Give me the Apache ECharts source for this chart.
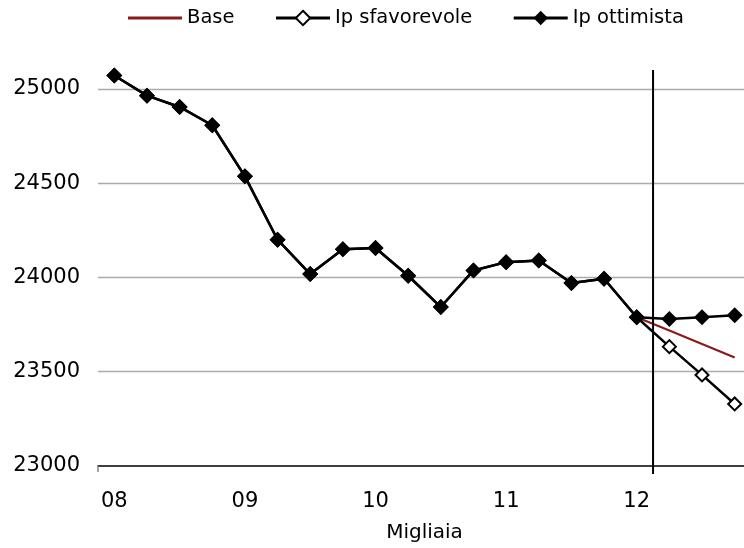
<!DOCTYPE html>
<html>
<head>
<meta charset="utf-8">
<script src="https://cdn.jsdelivr.net/npm/echarts@6/dist/echarts.min.js"></script>
<style>html,body{margin:0;padding:0;background:#fff}#c{width:744px;height:548px}</style>
</head>
<body>
<div id="c"></div>
<script>
// Quarterly categories (2008 Q1 .. 2012 Q4); labels show the year only
var categories = ['08','08','08','08','09','09','09','09','10','10','10','10','11','11','11','11','12','12','12','12'];
// Historical values (08 Q1 .. 12 Q1)
var histValues = [25071,24964,24904,24807,24536,24200,24018,24150,24156,24009,23843,24037,24081,24090,23970,23993,23789];
// Forecasts (12 Q2 .. 12 Q4)
var baseForecast = [23718,23647,23575];
var sfavForecast = [23633,23483,23329];
var ottForecast  = [23779,23789,23800];
// Y axis
var yMin = 23000, yMax = 25100, yStep = 500;
var gridValues = [23500, 24000, 24500, 25000];
// Vertical divider between 12 Q1 and 12 Q2 (in category-boundary units), extends a bit below the axis
var dividerX = 17;
var dividerBottom = 22958;

var nHist = histValues.length;
function pad(n){ var a=[]; for(var i=0;i<n;i++) a.push(null); return a; }
var baseData = pad(nHist-1).concat([histValues[nHist-1]]).concat(baseForecast);
var sfavData = histValues.concat(sfavForecast);
var ottData = histValues.concat(ottForecast);

var FONT = 'DejaVu Sans';
var chart = echarts.init(document.getElementById('c'), null, {renderer:'canvas'});
chart.setOption({
  animation: false,
  backgroundColor: '#fff',
  legend: {
    data: [
      {name: 'Base', icon: 'path://M0,0L54,0L54,2.8L0,2.8Z', itemStyle: {color: '#8b1a1a'}},
      'Ip sfavorevole', 'Ip ottimista'],
    left: 123, top: 3,
    itemWidth: 54, itemHeight: 18, itemGap: 40,
    lineStyle: {width: 3},
    textStyle: {fontFamily: FONT, fontSize: 19.5, color: '#000'}
  },
  grid: {left: 98, top: 70, width: 653, height: 396, outerBoundsMode: 'none', containLabel: false},
  xAxis: [{
    type: 'category',
    data: categories,
    boundaryGap: true,
    name: 'Migliaia',
    nameLocation: 'middle',
    nameGap: 57,
    nameTextStyle: {fontFamily: FONT, fontSize: 20, color: '#000'},
    axisLine: {lineStyle: {color: '#000', width: 1.5}},
    axisTick: {show: true, interval: function(i){ return i === 0; }, length: 6, lineStyle: {color: '#888', width: 1.5}},
    axisLabel: {interval: 3, margin: 25, fontFamily: FONT, fontSize: 21, color: '#000'},
    splitLine: {show: false}
  },{
    type: 'value', min: 0, max: categories.length, show: false
  }],
  yAxis: {
    type: 'value', min: yMin, max: yMax, interval: yStep,
    axisLine: {show: false}, axisTick: {show: false},
    axisLabel: {margin: 18, fontFamily: FONT, fontSize: 21, color: '#000',
      formatter: function(v){ return v > 25000 ? '' : String(v); }},
    splitLine: {show: false}
  },
  series: [
    {name: 'Base', type: 'line', data: baseData, symbol: 'none',
     lineStyle: {color: '#8b1a1a', width: 2.2}, itemStyle: {color: '#8b1a1a'}, z: 2,
     markLine: {silent: true, symbol: ['none','none'], animation: false, z: 1,
       label: {show: false},
       lineStyle: {color: '#ababab', width: 1.3, type: 'solid'},
       data: gridValues.map(function(v){ return {yAxis: v}; })}},
    {name: 'Ip sfavorevole', type: 'line', data: sfavData, symbol: 'diamond', symbolSize: 13,
     lineStyle: {color: '#000', width: 2.5},
     itemStyle: {color: '#fff', borderColor: '#000', borderWidth: 2}, z: 3},
    {name: 'Ip ottimista', type: 'line', data: ottData, symbol: 'diamond', symbolSize: 16,
     lineStyle: {color: '#000', width: 2.5},
     itemStyle: {color: '#000', borderColor: '#000', borderWidth: 0}, z: 4},
    {name: 'divider', type: 'line', xAxisIndex: 1, clip: false, silent: true, symbol: 'none',
     data: [[dividerX, yMax], [dividerX, dividerBottom]],
     lineStyle: {color: '#000', width: 2}, z: 5}
  ]
});
</script>
</body>
</html>
